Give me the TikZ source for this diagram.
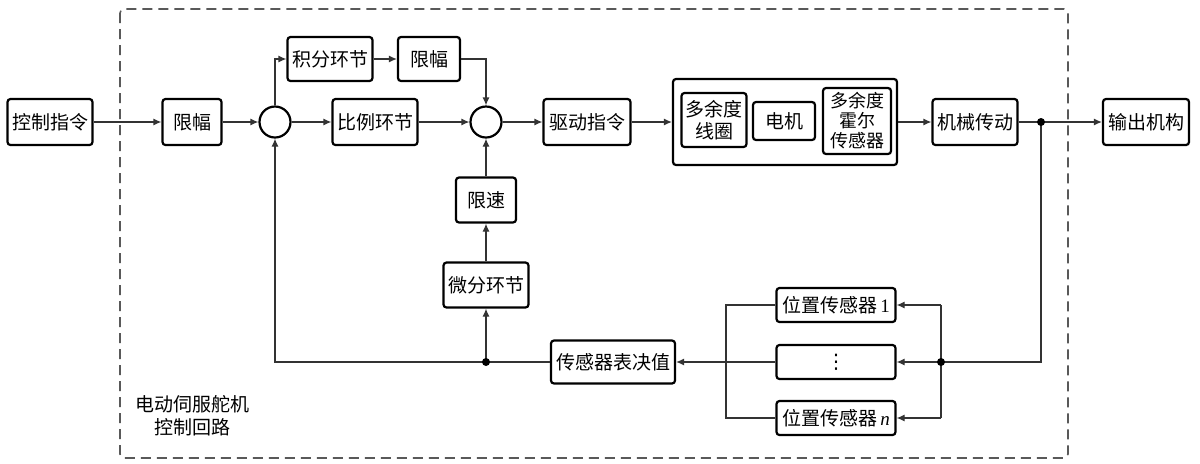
\documentclass[tikz,border=0pt]{standalone}
\usepackage{fontspec}
\setmainfont{Liberation Serif}
\newfontfamily\cjk{Noto Sans CJK SC}
\newfontfamily\symfont{DejaVu Sans}
\usetikzlibrary{arrows.meta}
\tikzset{
  box/.style={draw, line width=1.1pt, rounded corners=1.5pt, inner sep=0pt, align=center,
    font=\cjk\fontsize{9.5}{11}\selectfont},
  sumnode/.style={circle, draw, line width=1.1pt, minimum size=15.5pt, inner sep=0pt},
  conn/.style={line width=0.6pt, draw=black!80, -{Latex[length=4pt,width=3.5pt]}},
  plain/.style={line width=0.6pt, draw=black!80},
  jdot/.style={circle, fill, inner sep=0pt, minimum size=4pt},
}
\begin{document}
\begin{tikzpicture}[x=0.5pt,y=-0.5pt]
\useasboundingbox (0,0) rectangle (1200,463);
% dashed frame
\draw[black!65, line width=0.8pt, dash pattern=on 5pt off 3pt, rounded corners=2pt] (120,9) rectangle (1068,458);
\node[font=\cjk\fontsize{9.5}{11.5}\selectfont, align=center] (lbl) at (192,416) {电动伺服舵机\\控制回路};

\node[box, minimum width=42.5pt, minimum height=23pt] (cmd) at (50,122) {控制指令};
\node[box, minimum width=29.5pt, minimum height=23pt] (lim1) at (192,122) {限幅};
\node[sumnode] (s1) at (275,122) {};
\node[box, minimum width=42.5pt, minimum height=22pt] (int) at (330,59) {积分环节};
\node[box, minimum width=42.5pt, minimum height=23pt] (prop) at (375,122) {比例环节};
\node[box, minimum width=31pt, minimum height=22pt] (lim2) at (429,59) {限幅};
\node[sumnode] (s2) at (486,122) {};
\node[box, minimum width=43.5pt, minimum height=23pt] (drv) at (587,122) {驱动指令};
\node[box, minimum width=112pt, minimum height=43pt] (grp) at (785,122) {};
\node[box, minimum width=32.5pt, minimum height=27pt] (coil) at (714,120) {多余度\\线圈};
\node[box, minimum width=31pt, minimum height=19pt] (motor) at (784,121) {电机};
\node[box, minimum width=34pt, minimum height=33pt, font=\cjk\fontsize{9}{10}\selectfont] (hall) at (857,121) {多余度\\霍尔\\传感器};
\node[box, minimum width=42.5pt, minimum height=23pt] (mech) at (975,122) {机械传动};
\node[box, minimum width=43pt, minimum height=23pt] (out) at (1146,122) {输出机构};
\coordinate (jA) at (1041,122);

\node[box, minimum width=30pt, minimum height=22.5pt] (limv) at (486,200) {限速};
\node[box, minimum width=42.5pt, minimum height=22.5pt] (diff) at (486,285) {微分环节};
\coordinate (jB) at (486,362);
\node[box, minimum width=62pt, minimum height=21.5pt] (vote) at (613,362) {传感器表决值};

\node[box, minimum width=59.5pt, minimum height=17pt] (ps1) at (836,305) {位置传感器\,{\rmfamily 1}};
\node[box, minimum width=59.5pt, minimum height=17pt, font=\symfont\fontsize{10}{11}\selectfont] (psd) at (836,362) {⋮};
\node[box, minimum width=59.5pt, minimum height=17pt] (psn) at (836,418) {位置传感器\,{\rmfamily\itshape n}};
\coordinate (jC) at (941,362);
\coordinate (lbt) at (726,305);
\coordinate (lbb) at (726,418);

% connectors
\draw[conn] (cmd) -- (lim1);
\draw[conn] (lim1) -- (s1);
\draw[conn] (s1) -- (prop);
\draw[conn] (s1.north) |- (int.west);
\draw[conn] (int) -- (lim2);
\draw[conn] (lim2.east) -| (s2.north);
\draw[conn] (prop) -- (s2);
\draw[conn] (limv) -- (s2);
\draw[conn] (diff) -- (limv);
\draw[conn] (jB) -- (diff);
\draw[plain] (vote.west) -- (jB);
\draw[conn] (jB) -| (s1.south);
\draw[conn] (s2) -- (drv);
\draw[conn] (drv) -- (grp);
\draw[conn] (grp) -- (mech);
\draw[conn] (mech) -- (out);
\draw[plain] (jA) |- (jC);
\draw[conn] (jC) -- (psd);
\draw[plain] (jC |- ps1.east) -- (jC |- psn.east);
\draw[conn] (jC |- ps1.east) -- (ps1.east);
\draw[conn] (jC |- psn.east) -- (psn.east);
\draw[plain] (ps1.west) -- (lbt) -- (lbb) -- (psn.west);
\draw[conn] (psd.west) -- (vote.east);

\node[jdot] at (jA) {};
\node[jdot] at (jB) {};
\node[jdot] at (jC) {};
\end{tikzpicture}
\end{document}
